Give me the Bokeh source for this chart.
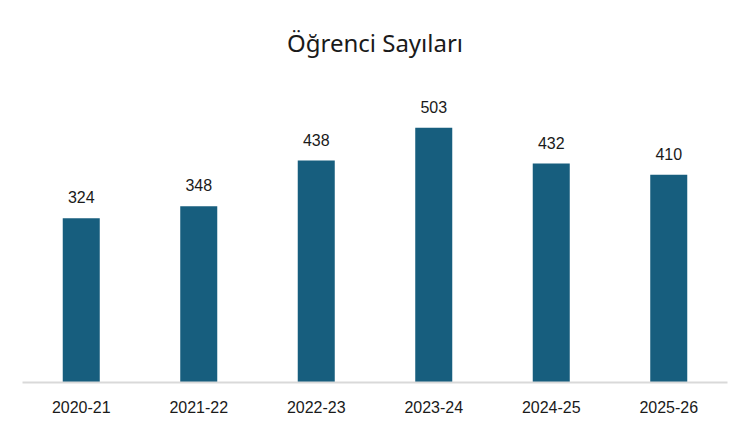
from bokeh.plotting import figure
from bokeh.models import ColumnDataSource, LabelSet, Range1d
from bokeh.core.properties import value
from bokeh.embed import file_html
from bokeh.resources import INLINE

title_text = "Öğrenci Sayıları"
categories = ["2020-21", "2021-22", "2022-23", "2023-24", "2024-25", "2025-26"]
values = [324, 348, 438, 503, 432, 410]
labels = [str(v) for v in values]

src = ColumnDataSource(dict(cat=categories, val=values, lab=labels))

W, H = 734, 415
p = figure(x_range=categories, width=W, height=H, output_backend="svg",
           toolbar_location=None, tools="")
p.y_range = Range1d(0, 600)
p.min_border_left = 22
p.min_border_right = 7
p.min_border_bottom = 4
p.min_border_top = 78
p.outline_line_color = None
p.background_fill_color = "white"
p.border_fill_color = "white"

p.title.text = title_text
p.title.align = "center"
p.title.text_font = "Noto Sans"
p.title.text_font_size = "24px"
p.title.text_font_style = "normal"
p.title.text_color = "#1a1a1a"
p.title.standoff = 40

p.vbar(x="cat", top="val", width=0.315, source=src, color="#175E7E", line_color=None)

p.add_layout(LabelSet(x="cat", y="val", text="lab", source=src, y_offset=15,
                      text_align="center", text_baseline="alphabetic",
                      text_font=value("Liberation Sans"), text_font_size=value("16px"),
                      text_color="#1a1a1a"))

p.yaxis.visible = False
p.xgrid.visible = False
p.ygrid.visible = False
p.xaxis.axis_line_color = "#d9d9d9"
p.xaxis.axis_line_width = 2
p.xaxis.major_tick_line_color = None
p.xaxis.minor_tick_line_color = None
p.xaxis.major_label_standoff = 12
p.xaxis.major_label_text_font = "Liberation Sans"
p.xaxis.major_label_text_font_size = "16px"
p.xaxis.major_label_text_color = "#1a1a1a"

open("out.html", "w").write(file_html(p, INLINE))
